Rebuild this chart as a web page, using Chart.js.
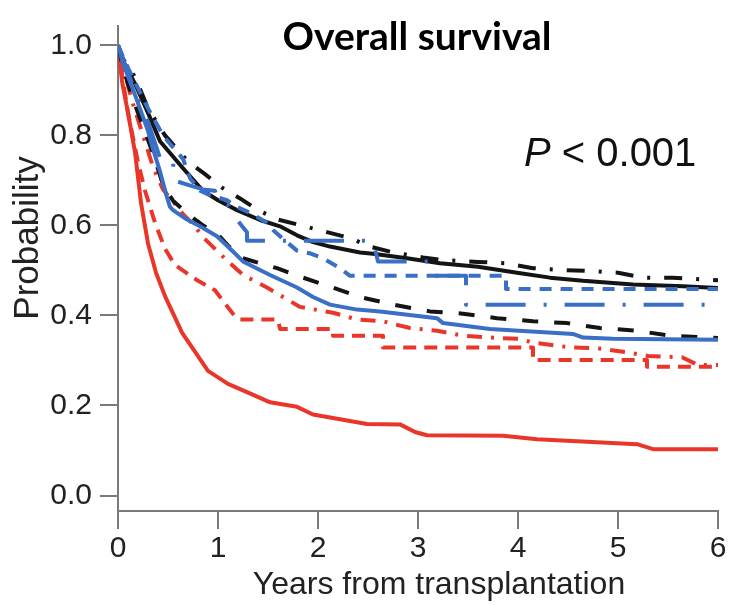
<!DOCTYPE html>
<html><head><meta charset="utf-8">
<script src="https://cdn.jsdelivr.net/npm/chart.js@4.4.1/dist/chart.umd.min.js"></script>
<style>html,body{margin:0;padding:0;background:#fff;}#wrap{width:733px;height:605px;}</style>
</head><body><div id="wrap"><canvas id="c" width="733" height="605"></canvas></div>
<script>
// ---- data (years, survival probability) ----
const xTicks = [0, 1, 2, 3, 4, 5, 6];
const xTickLabels = ['0', '1', '2', '3', '4', '5', '6'];
const yTicks = [0, 0.2, 0.4, 0.6, 0.8, 1.0];
const yTickLabels = ['0.0', '0.2', '0.4', '0.6', '0.8', '1.0'];
const titleText = 'Overall survival';
const pText = ' < 0.001';
const xTitle = 'Years from transplantation';
const yTitle = 'Probability';

const blackSolid = [[0,1],[0.05,0.965],[0.17,0.915],[0.3,0.85],[0.42,0.787],[0.65,0.727],[0.85,0.677],[1.0,0.656],[1.19,0.634],[1.42,0.612],[1.62,0.598],[1.79,0.578],[1.95,0.563],[2.12,0.553],[2.42,0.54],[2.55,0.537],[2.89,0.527],[3.22,0.516],[3.6,0.508],[3.99,0.495],[4.32,0.484],[4.65,0.477],[5.15,0.469],[5.65,0.465],[6.0,0.461]];
const blackDashDot = [[0,1],[0.05,0.97],[0.17,0.93],[0.3,0.86],[0.47,0.8],[0.7,0.742],[0.87,0.714],[1.04,0.684],[1.22,0.66],[1.4,0.634],[1.6,0.613],[1.87,0.598],[2.09,0.585],[2.32,0.572],[2.52,0.553],[2.75,0.54],[3.05,0.529],[3.25,0.523],[3.6,0.519],[3.87,0.516],[4.15,0.505],[4.42,0.501],[4.72,0.499],[5.0,0.495],[5.25,0.484],[5.55,0.484],[5.85,0.48],[6.0,0.478]];
const blackDashed = [[0,1],[0.05,0.95],[0.15,0.88],[0.25,0.82],[0.35,0.76],[0.45,0.69],[0.55,0.655],[0.7,0.625],[0.85,0.6],[1.0,0.58],[1.1,0.555],[1.25,0.527],[1.59,0.505],[1.85,0.484],[2.15,0.462],[2.42,0.441],[2.75,0.424],[3.12,0.409],[3.45,0.404],[3.79,0.394],[4.15,0.387],[4.49,0.383],[4.82,0.372],[5.19,0.366],[5.52,0.355],[6.0,0.35]];
const blueSolid = [[0,1],[0.05,0.96],[0.17,0.89],[0.3,0.81],[0.35,0.77],[0.42,0.72],[0.49,0.662],[0.52,0.641],[0.55,0.634],[0.69,0.613],[0.82,0.598],[0.99,0.576],[1.15,0.542],[1.25,0.52],[1.32,0.512],[1.52,0.49],[1.79,0.462],[1.95,0.441],[2.12,0.424],[2.39,0.413],[2.62,0.409],[3.19,0.394],[3.25,0.383],[3.72,0.37],[4.55,0.359],[4.65,0.351],[4.95,0.348],[6.0,0.346]];
const blueDashed = [[0,1],[0.1,0.95],[0.2,0.905],[0.3,0.86],[0.45,0.8],[0.59,0.763],[0.65,0.748],[0.72,0.705],[0.82,0.677],[0.92,0.667],[1.09,0.656],[1.19,0.641],[1.32,0.628],[1.49,0.606],[1.55,0.59],[1.65,0.57],[1.79,0.544],[1.92,0.538],[2.05,0.527],[2.22,0.505],[2.32,0.488],[3.88,0.488],[3.88,0.459],[6.0,0.459]];
const blueDashDot = [[0,1],[0.1,0.94],[0.2,0.88],[0.3,0.83],[0.42,0.75],[0.55,0.745],[0.56,0.7],[0.7,0.69],[0.85,0.68],[0.97,0.677],[1.0,0.655],[1.1,0.645],[1.2,0.61],[1.29,0.585],[1.29,0.566],[2.55,0.566],[2.6,0.52],[3.1,0.52],[3.15,0.488],[3.48,0.488],[3.48,0.424],[6.0,0.424]];
const redSolid = [[0,1],[0.04,0.92],[0.1,0.85],[0.17,0.763],[0.23,0.65],[0.3,0.56],[0.38,0.495],[0.47,0.443],[0.64,0.362],[0.9,0.277],[1.1,0.248],[1.37,0.222],[1.52,0.207],[1.79,0.197],[1.95,0.18],[2.49,0.159],[2.82,0.158],[2.97,0.141],[3.09,0.134],[3.85,0.133],[4.19,0.125],[5.19,0.114],[5.35,0.103],[6.0,0.103]];
const redDashed = [[0,1],[0.05,0.92],[0.1,0.85],[0.2,0.74],[0.27,0.677],[0.37,0.606],[0.47,0.548],[0.57,0.512],[0.8,0.477],[0.97,0.456],[1.07,0.426],[1.17,0.398],[1.22,0.391],[1.6,0.391],[1.62,0.37],[2.15,0.37],[2.15,0.355],[2.65,0.355],[2.65,0.329],[4.15,0.329],[4.15,0.301],[5.29,0.301],[5.29,0.286],[6.0,0.286]];
const redDashDot = [[0,1],[0.05,0.95],[0.15,0.87],[0.25,0.8],[0.35,0.73],[0.45,0.68],[0.54,0.656],[0.65,0.625],[0.77,0.598],[0.84,0.576],[0.97,0.548],[1.1,0.52],[1.25,0.49],[1.49,0.462],[1.65,0.441],[1.82,0.419],[2.15,0.406],[2.39,0.391],[2.65,0.387],[2.92,0.372],[3.19,0.366],[3.45,0.355],[3.72,0.351],[4.0,0.348],[4.15,0.34],[4.52,0.329],[4.8,0.327],[5.09,0.318],[5.3,0.31],[5.64,0.307],[5.8,0.29],[6.0,0.29]];

// ---- styles ----
const BLACK = '#141414', BLUE = '#3a6fc6', RED = '#e9362b', AXIS = '#7a7a7a', TEXT = '#222222';
const LW = 4;

function ds(label, pts, color, dash) {
  return {
    label, data: pts.map(p => ({x: p[0], y: p[1]})),
    borderColor: color, backgroundColor: color, borderWidth: LW,
    borderDash: dash || [], pointRadius: 0, pointHoverRadius: 0, fill: false, tension: 0,
    borderCapStyle: 'butt', borderJoinStyle: 'round'
  };
}

const textPlugin = {
  id: 'texts',
  afterDraw(chart) {
    const ctx = chart.ctx;
    ctx.save();
    ctx.fillStyle = '#000';
    ctx.textBaseline = 'alphabetic';
    ctx.textAlign = 'center';
    ctx.font = 'bold 39px Lato';
    ctx.fillText(titleText, 417, 50);
    ctx.textAlign = 'left';
    ctx.font = 'italic 40px "Liberation Sans"';
    ctx.fillStyle = '#111';
    ctx.fillText('P', 524, 166);
    const w = ctx.measureText('P').width;
    ctx.font = '40px "Liberation Sans"';
    ctx.fillText(pText, 524 + w, 166);
    ctx.fillStyle = TEXT;
    ctx.font = '32px "Liberation Sans"';
    ctx.textAlign = 'center';
    ctx.fillText(xTitle, 439, 594);
    ctx.font = '35px "Liberation Sans"';
    ctx.translate(28, 238);
    ctx.rotate(-Math.PI / 2);
    ctx.textBaseline = 'middle';
    ctx.fillText(yTitle, 0, 0);
    ctx.restore();
  }
};

const gridOpts = {drawOnChartArea: false, drawTicks: true, tickLength: 18, color: AXIS, lineWidth: 2};
const borderOpts = {display: true, color: AXIS, width: 2};

new Chart(document.getElementById('c'), {
  type: 'line',
  data: {
    datasets: [
      ds('Blue solid', blueSolid, BLUE, []),
      ds('Blue dashed', blueDashed, BLUE, [12, 9]),
      ds('Blue dash-dot', blueDashDot, BLUE, [40, 18, 3, 18]),
      ds('Black solid', blackSolid, BLACK, []),
      ds('Black dashed', blackDashed, BLACK, [16, 16]),
      ds('Black dash-dot', blackDashDot, BLACK, [18, 14, 3, 14]),
      ds('Red dashed', redDashed, RED, [13, 8]),
      ds('Red dash-dot', redDashDot, RED, [15, 9, 3, 9]),
      ds('Red solid', redSolid, RED, [])
    ]
  },
  options: {
    responsive: false, animation: false, devicePixelRatio: 1,
    layout: {padding: {top: 10, right: 15, left: 0, bottom: 0}},
    plugins: {legend: {display: false}, tooltip: {enabled: false}, title: {display: false}},
    events: [],
    scales: {
      x: {
        type: 'linear', min: 0, max: 6,
        afterBuildTicks: s => { s.ticks = xTicks.map(v => ({value: v})); },
        afterFit: s => { s.height = 94; },
        grid: gridOpts, border: borderOpts,
        ticks: {font: {family: 'Liberation Sans', size: 30}, color: TEXT, padding: 2, maxRotation: 0, autoSkip: false,
          callback: (v, i) => xTickLabels[i]}
      },
      y: {
        type: 'linear', min: -0.0344, max: 1.043,
        afterBuildTicks: s => { s.ticks = yTicks.map(v => ({value: v})); },
        afterFit: s => { s.width = 118; },
        grid: gridOpts, border: borderOpts,
        ticks: {font: {family: 'Liberation Sans', size: 30}, color: TEXT, padding: 8, autoSkip: false,
          callback: (v, i) => yTickLabels[i]}
      }
    }
  },
  plugins: [textPlugin]
});
</script>
</body></html>
